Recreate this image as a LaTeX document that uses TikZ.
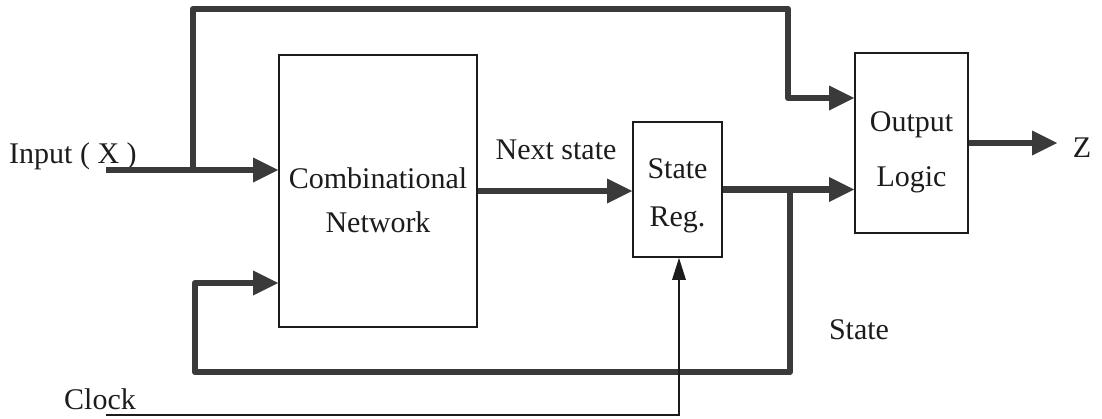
\documentclass[tikz,border=0pt]{standalone}
\usepackage{fontspec}
\setmainfont{Liberation Serif}
\usetikzlibrary{arrows.meta}
\definecolor{ink}{HTML}{1C1C1C}
\definecolor{wire}{HTML}{3A3A3A}
\begin{document}
\begin{tikzpicture}[x=1pt,y=-1pt,
  blk/.style={draw=ink, line width=1.8pt, fill=white, inner sep=0pt, rectangle},
  bus/.style={draw=wire, line width=6.5pt, line join=round,
    -{Triangle[length=25pt,width=25pt,line width=0pt]}},
  clk/.style={draw=ink, line width=1.5pt,
    -{Triangle[length=22pt,width=14pt,line width=0pt]}},
  lbl/.style={text=ink, font=\fontsize{30}{36}\selectfont, inner sep=0pt, anchor=base}]
\useasboundingbox (0,0) rectangle (1102,418);

% blocks
\node[blk, minimum width=198pt, minimum height=272pt] (comb) at (378,191) {};
\node[blk, minimum width=89pt, minimum height=135pt] (sreg) at (677.5,189.5) {};
\node[blk, minimum width=113pt, minimum height=180pt] (outl) at (911.5,143) {};

% block texts
\node[lbl] (combA) at (378,188) {Combinational};
\node[lbl] (combB) at (378,232) {Network};
\node[lbl] (srA) at (677.5,178) {State};
\node[lbl] (srB) at (677.5,226) {Reg.};
\node[lbl] (olA) at (911.5,131) {Output};
\node[lbl] (olB) at (911.5,186) {Logic};

% signal labels
\node[lbl, anchor=base west] (inlbl) at (9,163) {Input ( X )};
\node[lbl] (nslbl) at (556,159) {Next state};
\node[lbl] (stlbl) at (859,339) {State};
\node[lbl] (clklbl) at (100,409) {Clock};
\node[lbl] (zlbl) at (1082,157) {Z};

% routing points
\coordinate (xin) at (106,170);
\coordinate (tap) at (193,170);
\coordinate (tl) at (193,9);
\coordinate (tr) at (788,9);
\coordinate (br) at (788,98);
\coordinate (sj) at (790,189.5);
\coordinate (fb1) at (790,372);
\coordinate (fb2) at (195,372);
\coordinate (fb3) at (195,283);
\coordinate (zout) at (1057,143);
\coordinate (ck0) at (106,415);
\coordinate (ck1) at (679,415);

% input bus and its bypass to the output logic
\draw[bus] (xin) -- (comb.west |- xin);
\draw[bus] (tap) -- (tl) -- (tr) -- (br) -- (outl.west |- br);

% next state into the register
\draw[bus] (comb.east) -- (comb.east -| sreg.west);

% present state to output logic and back to the network
\draw[bus] (sreg.east) -- (sreg.east -| outl.west);
\draw[bus] (sj) -- (fb1) -- (fb2) -- (fb3) -- (comb.west |- fb3);

% output
\draw[bus] (outl.east) -- (zout);

% clock
\draw[clk] (ck0) -- (ck1) -- (ck1 |- sreg.south);
\end{tikzpicture}
\end{document}
